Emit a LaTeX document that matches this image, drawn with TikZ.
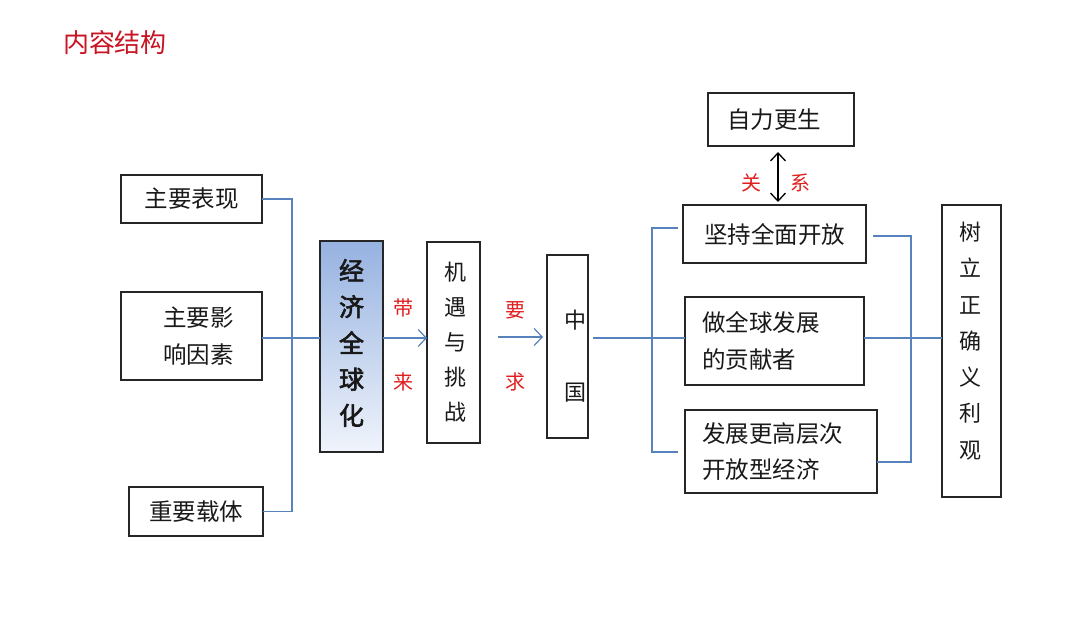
\documentclass[tikz,border=0pt]{standalone}
\usepackage{fontspec}
\newfontfamily\cjk{Noto Sans CJK SC}
\newfontfamily\cjkbold{Noto Sans CJK SC}[FakeBold=2.5]
\usetikzlibrary{arrows.meta,calc}
\definecolor{lineblue}{RGB}{88,130,190}
\definecolor{labred}{RGB}{225,30,30}
\definecolor{titlered}{RGB}{200,20,35}
\definecolor{txt}{RGB}{25,25,25}
\definecolor{gtop}{RGB}{150,178,225}
\definecolor{gbot}{RGB}{240,244,251}
\begin{document}
\begin{tikzpicture}[x=1pt,y=-1pt,
  box/.style={draw=black!85,line width=1.3pt,inner sep=0pt,outer sep=0pt,text=txt,
    font=\cjk\fontsize{23.5}{36.5}\selectfont},
  vtext/.style={inner sep=0pt,text=txt,align=center,font=\cjk\fontsize{22}{36}\selectfont},
  blueline/.style={draw=lineblue,line width=1.2pt},
  barrow/.style={blueline,-{Straight Barb[length=8pt,width=17pt,line width=1.2pt]}},
  darrow/.style={draw=black,line width=1.3pt,{Straight Barb[length=8pt,width=15pt]}-{Straight Barb[length=8pt,width=15pt]}},
  redlab/.style={inner sep=0pt,text=labred,font=\cjk\fontsize{20}{24}\selectfont}]
\useasboundingbox (0,0) rectangle (1080,623);
\fill[white] (0,0) rectangle (1080,623);

% title
\node[inner sep=0pt,text=titlered,font=\cjk\fontsize{26}{30}\selectfont] (title) at (115,43) {内容结构};

% left boxes
\node[box,minimum width=141pt,minimum height=48pt] (b1) at (191.5,199) {主要表现};
\node[box,minimum width=141pt,minimum height=88pt] (b2) at (191.5,336) {\hspace*{17pt}\parbox{74pt}{主要影\\响因素}};
\node[box,minimum width=134pt,minimum height=49pt] (b3) at (196,511.5) {重要载体};

% central chain
\node[box,minimum width=63pt,minimum height=211pt,top color=gtop,bottom color=gbot] (g) at (351.5,346.5) {};
\node[vtext,font=\cjkbold\fontsize{25}{36.2}\selectfont] (gt) at (351.5,343) {经\\济\\全\\球\\化};
\node[box,minimum width=53pt,minimum height=201pt] (j) at (453.5,342.5) {};
\node[vtext,font=\cjk\fontsize{22}{35}\selectfont] (jt) at (455,342) {机\\遇\\与\\挑\\战};
\node[box,minimum width=41pt,minimum height=183pt] (zg) at (567.5,346.5) {};
\node[vtext,font=\cjk\fontsize{22}{36}\selectfont] (zgt) at (575,356) {中\\[36pt]国};

% right side
\node[box,minimum width=146pt,minimum height=53pt] (z1) at (781,119.5) {\hspace*{-14pt}自力更生};
\node[box,minimum width=183pt,minimum height=58pt] (k1) at (774.5,234) {坚持全面开放};
\node[box,minimum width=179pt,minimum height=88pt] (k2) at (774.5,341) {\parbox{145pt}{做全球发展\\的贡献者}};
\node[box,minimum width=192pt,minimum height=83pt] (k3) at (781,451.5) {\parbox{158pt}{发展更高层次\\开放型经济}};
\node[box,minimum width=59pt,minimum height=292pt] (s) at (971.5,351) {};
\node[vtext,font=\cjk\fontsize{22}{36.3}\selectfont] (st) at (970,341) {树\\立\\正\\确\\义\\利\\观};

% left bracket
\draw[blueline] (b1.east) -- (292,199) |- (b3.east);
\draw[blueline] (b2.east |- 0,338) -- (g.west |- 0,338);

% arrows with labels
\draw[barrow] (g.east |- 0,338) -- (j.west |- 0,338);
\node[redlab] (l1) at (403,308) {带};
\node[redlab] (l2) at (403,382) {来};
\coordinate (a2s) at (498,337);
\coordinate (a2e) at (543,337);
\draw[barrow] (a2s) -- (a2e);
\node[redlab] (l3) at (515,310) {要};
\node[redlab] (l4) at (515,382) {求};

% China to right
\draw[blueline] (593,338) -- (k2.west |- 0,338);
\coordinate (lb1) at (678,228);
\coordinate (lb2) at (678,452);
\draw[blueline] (lb1) -| (652,452) -- (lb2);

% relation arrow
\coordinate (d1) at (778,152);
\coordinate (d2) at (778,202);
\draw[darrow] (d1) -- (d2);
\node[redlab] (l5) at (751,183) {关};
\node[redlab] (l6) at (800,183) {系};

% right bracket
\coordinate (rb1) at (873,236);
\coordinate (rb2) at (877,462);
\draw[blueline] (rb1) -| (911,462) -- (rb2);
\draw[blueline] (k2.east |- 0,338) -- (s.west |- 0,338);
\end{tikzpicture}
\end{document}
